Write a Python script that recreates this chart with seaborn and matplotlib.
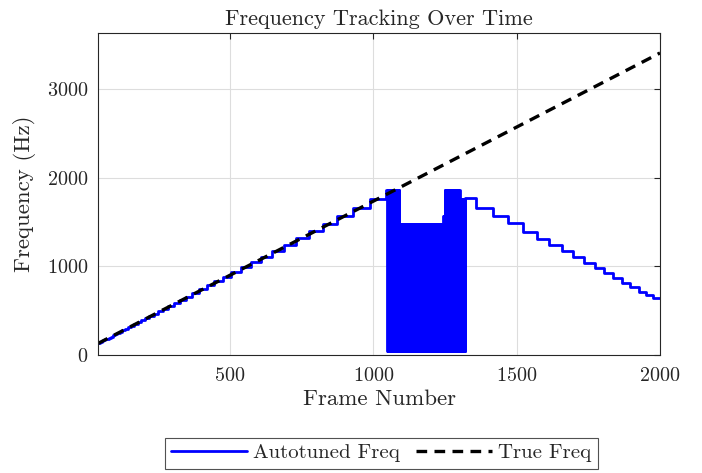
import numpy as np
import pandas as pd
import matplotlib
matplotlib.use("Agg")
import matplotlib.pyplot as plt
import seaborn as sns

# ---- data ----
# rising part: semitone-quantised steps (start frame, level in Hz)
asc_starts = [40, 44, 48, 53, 59, 65, 71, 77, 84, 91, 99, 107, 115, 124, 134, 144,
              155, 166, 178, 191, 205, 219, 234, 250, 267, 285, 305, 325, 346, 369,
              393, 419, 446, 475, 505, 538, 572, 608, 646, 687, 730, 776, 824, 875,
              929, 987]
asc_levels = [130.8, 138.6, 146.8, 155.6, 164.8, 174.6, 185.0, 196.0, 207.7, 220.0,
              233.1, 246.9, 261.6, 277.2, 293.7, 311.1, 329.6, 349.2, 370.0, 392.0,
              415.3, 440.0, 466.2, 493.9, 523.3, 554.4, 587.3, 622.3, 659.3, 698.5,
              740.0, 784.0, 830.6, 880.0, 932.3, 987.8, 1046.5, 1108.7, 1174.7,
              1244.5, 1318.5, 1396.9, 1480.0, 1568.0, 1661.2, 1760.0]

# unstable region: frames alternate between a high value and a low value
glitch_starts = [1046, 1091, 1243, 1250, 1303]
glitch_ends = [1091, 1243, 1250, 1303, 1320]
glitch_highs = [1865, 1480, 1568, 1865, 1760]
glitch_low = 50

# falling part
desc_starts = [1320, 1358, 1417, 1471, 1521, 1572, 1614, 1657, 1698, 1736, 1773,
               1806, 1837, 1867, 1896, 1925, 1951, 1975]
desc_levels = [1765, 1660, 1570, 1485, 1390, 1305, 1240, 1172, 1108, 1041, 977,
               921, 865, 815, 763, 714, 676, 639]
last_frame = 2000

true_frames = [40, 2000]
true_freqs = [130, 3405]

x_ticks = [500, 1000, 1500, 2000]
y_ticks = [0, 1000, 2000, 3000]

# ---- build the autotuned step series ----
xs, ys = [], []
xs += asc_starts
ys += asc_levels
for s, e, h in zip(glitch_starts, glitch_ends, glitch_highs):
    for f in range(s, e):
        xs.append(f)
        ys.append(h if (f % 2 == 0) else glitch_low)
xs += desc_starts
ys += desc_levels
xs.append(last_frame)
ys.append(desc_levels[-1])
auto_df = pd.DataFrame({"Frame": xs, "Freq": ys})
true_df = pd.DataFrame({"Frame": true_frames, "Freq": true_freqs})

# ---- style ----
sns.set_theme(style="white")
plt.rcParams["font.family"] = "serif"
plt.rcParams["font.serif"] = ["cmr10", "DejaVu Serif"]
plt.rcParams["mathtext.fontset"] = "cm"
plt.rcParams["axes.formatter.use_mathtext"] = True
plt.rcParams["axes.unicode_minus"] = False

fig = plt.figure(figsize=(7.02, 4.73), dpi=100)
ax = fig.add_axes([0.1396, 0.2495, 0.8006, 0.6807])

sns.lineplot(data=auto_df, x="Frame", y="Freq", ax=ax, color="#0000ff",
             linewidth=2.0, drawstyle="steps-post", sort=False, estimator=None,
             label="Autotuned Freq", legend=False)
sns.lineplot(data=true_df, x="Frame", y="Freq", ax=ax, color="black",
             linewidth=2.4, linestyle=(0, (3.2, 2.2)), sort=False, estimator=None,
             label="True Freq", legend=False)

ax.set_xlim(40, 2000)
ax.set_ylim(0, 3630)
ax.set_xticks(x_ticks)
ax.set_yticks(y_ticks)
ax.grid(True, color="#dddddd", linewidth=0.8)
ax.set_axisbelow(True)
for sp in ax.spines.values():
    sp.set_color("#262626")
    sp.set_linewidth(0.8)
ax.tick_params(direction="in", length=4, width=0.8, color="#262626",
               top=True, right=True, labelsize=14.5, labelcolor="#262626")
ax.tick_params(axis="x", pad=9)
ax.tick_params(axis="y", pad=7)
ax.set_xlabel("Frame Number", fontsize=16.5, color="#262626", labelpad=3)
ax.set_ylabel("Frequency (Hz)", fontsize=16.5, color="#262626", labelpad=8)
ax.set_title("Frequency Tracking Over Time", fontsize=16, color="#262626", pad=6)

handles, labels = ax.get_legend_handles_labels()
leg = fig.legend(handles, labels, loc="center", bbox_to_anchor=(0.543, 0.042),
                 ncol=2, fontsize=15, frameon=True, fancybox=False,
                 handlelength=3.65, columnspacing=0.75, handletextpad=0.3,
                 borderpad=0.3, borderaxespad=0.0)
leg.get_frame().set_edgecolor("#262626")
leg.get_frame().set_linewidth(0.8)
for t in leg.get_texts():
    t.set_color("#262626")

fig.savefig("out.png", dpi=100)
